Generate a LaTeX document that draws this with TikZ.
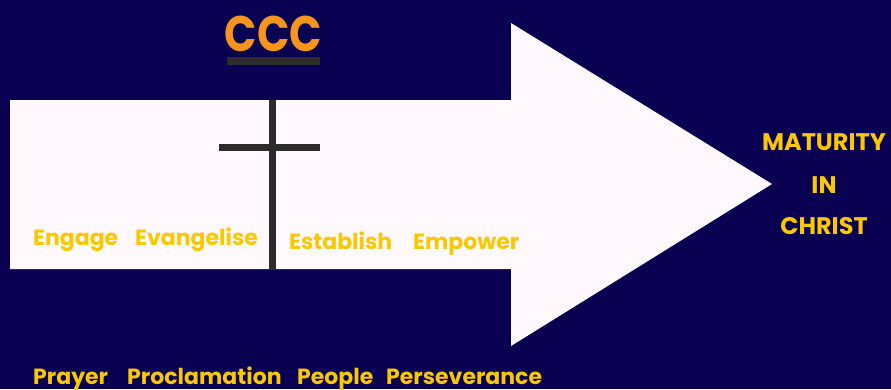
\documentclass[tikz,border=0pt]{standalone}
\usepackage{fontspec}
\setmainfont{Poppins}
\definecolor{navy}{HTML}{0A0052}
\definecolor{arrowfill}{HTML}{FFF8FC}
\definecolor{gold}{HTML}{F9C800}
\definecolor{titleorange}{HTML}{F7941D}
\definecolor{crossgray}{HTML}{2B2B2B}
\begin{document}
\begin{tikzpicture}[x=1pt,y=-1pt,
  lbl/.style={text=gold,inner sep=0pt,anchor=base west,font=\fontsize{22}{24}\selectfont\bfseries},
  goal/.style={text=gold,inner sep=0pt,anchor=base,font=\fontsize{24}{26}\selectfont\bfseries},
  crossbar/.style={draw=crossgray,line width=7pt}]
\fill[navy] (0,0) rectangle (891,389);
\useasboundingbox (0,0) rectangle (891,389);
% big arrow
\fill[arrowfill] (10,100) -- (511,100) -- (511,23) -- (772,184) -- (511,346) -- (511,269) -- (10,269) -- cycle;
% title
\node[text=titleorange,inner sep=0pt,anchor=base,font=\fontsize{50}{52}\selectfont\bfseries] (title) at (273.5,51) {\scalebox{0.85}[1]{CCC}};
\fill[crossgray] (227,57) rectangle (320,65);
% cross
\coordinate (ctop) at (272.5,100);
\coordinate (cbot) at (272.5,269);
\coordinate (cl) at (219,147.5);
\coordinate (cr) at (320,147.5);
\draw[crossbar] (ctop) -- (cbot);
\draw[crossbar] (cl) -- (cr);
% stage labels
\node[lbl] (engage) at (33,245) {Engage};
\node[lbl] (evangelise) at (135,245) {Evangelise};
\node[lbl] (establish) at (289,249) {Establish};
\node[lbl] (empower) at (413,249) {Empower};
% goal
\node[goal] (maturity) at (824,150) {MATURITY};
\node[goal] (in) at (824,193) {IN};
\node[goal] (christ) at (824,234) {CHRIST};
% bottom
\node[lbl] (prayer) at (33,384) {Prayer};
\node[lbl] (proclamation) at (127,384) {Proclamation};
\node[lbl] (people) at (297,384) {People};
\node[lbl] (perseverance) at (386,384) {Perseverance};
\end{tikzpicture}
\end{document}
